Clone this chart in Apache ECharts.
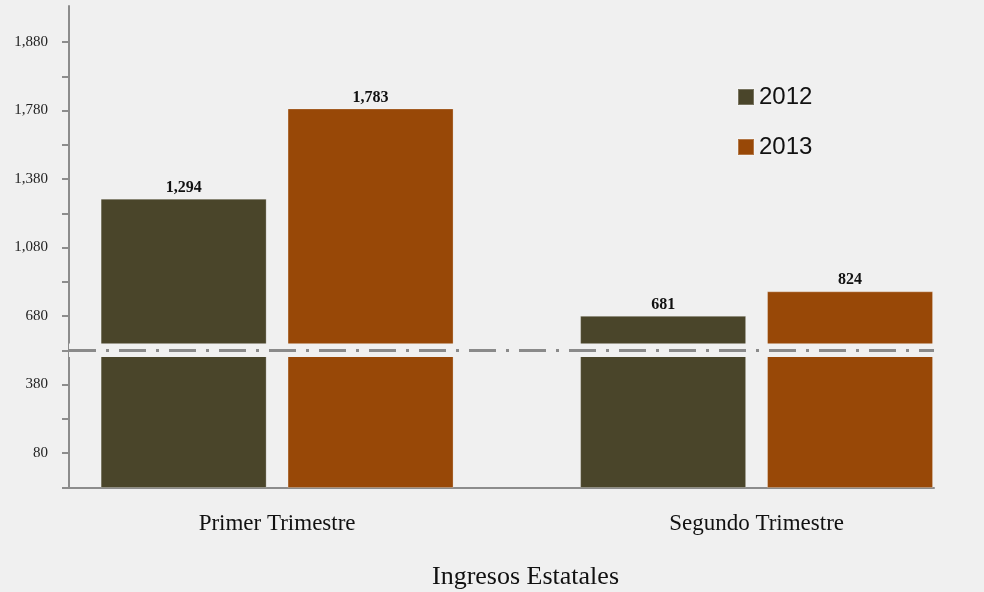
<!DOCTYPE html>
<html>
<head>
<meta charset="utf-8">
<script src="https://cdn.jsdelivr.net/npm/echarts@6/dist/echarts.min.js"></script>
<style>
html,body{margin:0;padding:0;background:#f0f0f0;}
#chart{width:984px;height:592px;}
</style>
</head>
<body>
<div id="chart"></div>
<script>
// ---- data ----
const categories = ['Primer Trimestre', 'Segundo Trimestre'];
const seriesNames = ['2012', '2013'];
const values2012 = [1294, 681];
const values2013 = [1783, 824];
const tickLabels = [80, 380, 680, 1080, 1380, 1780, 1880];
const axisTitle = 'Ingresos Estatales';

// broken / irregular axis: values mapped piecewise between the labelled ticks,
// in "tick units" measured from the bottom of the axis
const baseOffset = 0.511;     // space below the first labelled tick, in tick units
function toIndex(v) {
  for (let i = 0; i < tickLabels.length - 1; i++) {
    if (v <= tickLabels[i + 1]) {
      return baseOffset + i + (v - tickLabels[i]) / (tickLabels[i + 1] - tickLabels[i]);
    }
  }
  const n = tickLabels.length - 1;
  return baseOffset + n + (v - tickLabels[n]) / (tickLabels[n] - tickLabels[n - 1]);
}
const breakAt = baseOffset + 1.5;   // axis break between 380 and 680
const breakHalf = 0.1;
const fmt = v => v.toLocaleString('en-US');
const serif = 'Liberation Serif';

const majorVals = tickLabels.map((_, i) => baseOffset + i);
const tickVals = [0];
for (let i = 0; i < tickLabels.length * 2 - 1; i++) tickVals.push(baseOffset + i / 2);

function barSeries(name, vals, color) {
  return {
    name: name,
    type: 'bar',
    barWidth: 166,
    barGap: '12.6%',
    z: 2,
    data: vals.map((v, i) => [i, toIndex(v)]),
    itemStyle: { color: color, borderColor: 'rgba(255,255,255,0.25)', borderWidth: 1 },
    label: {
      show: true,
      position: 'top',
      distance: 3,
      fontFamily: serif,
      fontWeight: 'bold',
      fontSize: 16,
      color: '#111',
      formatter: p => fmt(vals[p.dataIndex])
    }
  };
}

const chart = echarts.init(document.getElementById('chart'), null, { renderer: 'canvas' });
chart.setOption({
  backgroundColor: '#f0f0f0',
  animation: false,
  title: {
    text: axisTitle,
    left: 427,
    top: 559,
    textStyle: { fontFamily: serif, fontSize: 26, fontWeight: 'normal', color: '#111' }
  },
  legend: {
    data: seriesNames,
    orient: 'vertical',
    left: 737,
    top: 85,
    padding: 0,
    itemWidth: 16,
    itemHeight: 16,
    itemGap: 26,
    icon: 'rect',
    textStyle: { fontFamily: 'Liberation Sans', fontSize: 24, lineHeight: 24, color: '#111' }
  },
  grid: { left: 69, right: 50, top: 6, bottom: 104, outerBoundsMode: 'none' },
  xAxis: {
    type: 'value',
    min: -0.434,
    max: 1.37,
    splitLine: { show: false },
    axisTick: { show: false },
    axisLine: { show: true, onZero: false, lineStyle: { color: '#8c8c8c', width: 2 } },
    axisLabel: {
      customValues: categories.map((_, i) => i),
      formatter: v => categories[Math.round(v)],
      margin: 24,
      fontFamily: serif,
      fontSize: 23,
      color: '#111'
    }
  },
  yAxis: {
    type: 'value',
    min: 0,
    max: 7.037,
    splitLine: { show: false },
    axisLine: { show: true, onZero: false, lineStyle: { color: '#8c8c8c', width: 2 } },
    axisTick: {
      show: true,
      customValues: tickVals,
      length: 7,
      lineStyle: { color: '#8c8c8c', width: 2 }
    },
    axisLabel: {
      customValues: majorVals,
      formatter: v => fmt(tickLabels[Math.round(v - baseOffset)]),
      margin: 21,
      fontFamily: serif,
      fontSize: 15,
      color: '#222'
    }
  },
  series: [
    barSeries(seriesNames[0], values2012, '#4a452a'),
    barSeries(seriesNames[1], values2013, '#984807'),
    {
      name: 'break',
      type: 'line',
      data: [],
      z: 10,
      silent: true,
      markArea: {
        silent: true,
        z: 10,
        itemStyle: { color: '#f0f0f0' },
        data: [[{ yAxis: breakAt - breakHalf }, { yAxis: breakAt + breakHalf }]]
      },
      markLine: {
        silent: true,
        z: 11,
        symbol: ['none', 'none'],
        label: { show: false },
        lineStyle: { color: '#8a8a8a', width: 3, type: [27, 10, 3, 10] },
        data: [{ yAxis: breakAt }]
      }
    }
  ]
});
</script>
</body>
</html>
